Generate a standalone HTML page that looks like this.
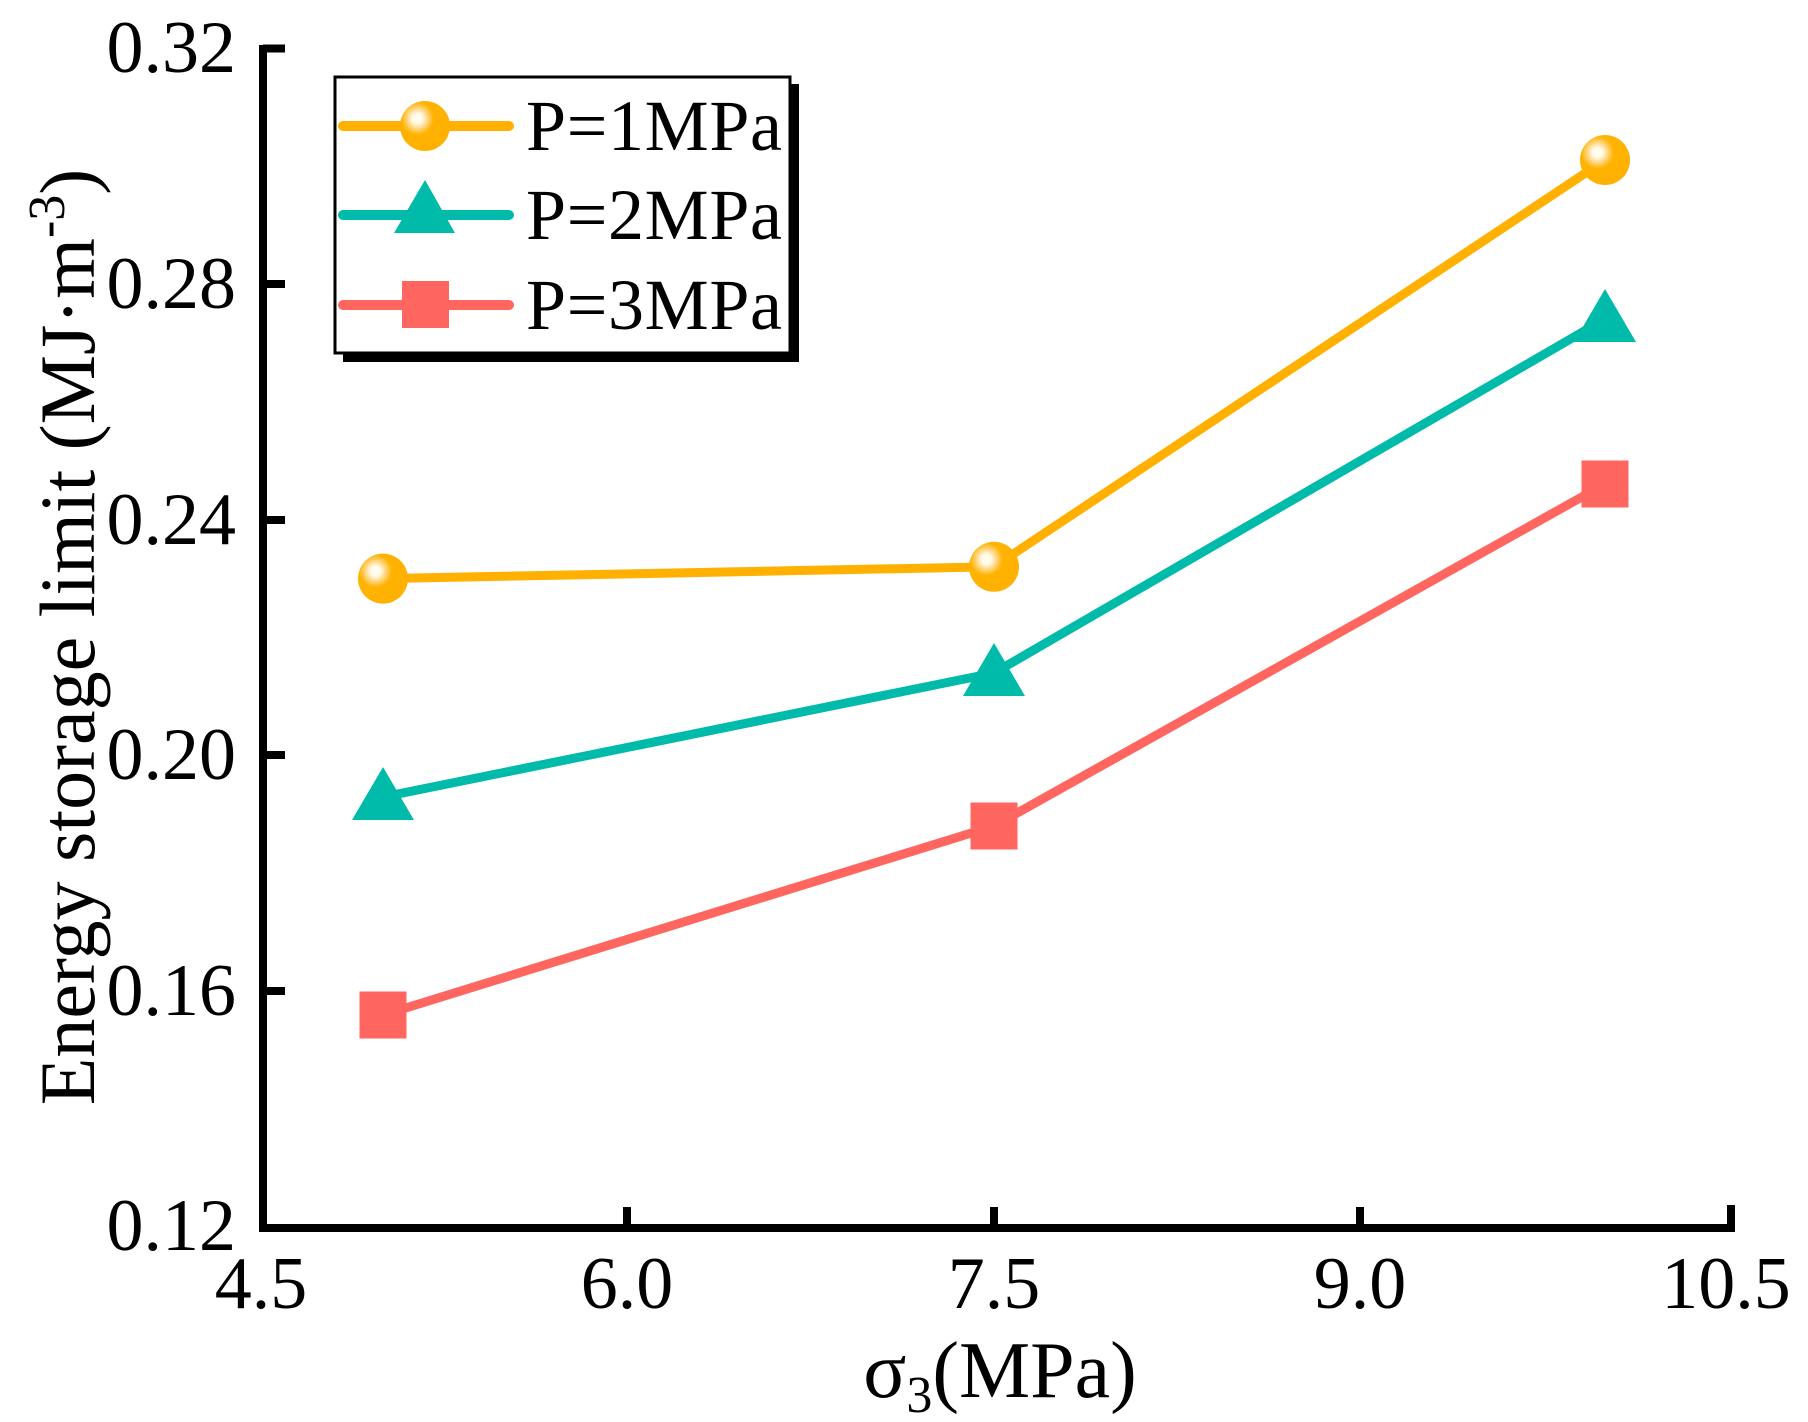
<!DOCTYPE html>
<html><head><meta charset="utf-8"><style>html,body{margin:0;padding:0;background:#fff}svg{display:block}</style></head>
<body>
<svg width="1808" height="1422" viewBox="0 0 1808 1422" xmlns="http://www.w3.org/2000/svg" font-family="'Liberation Serif', serif">
<defs>
<radialGradient id="g" cx="0.35" cy="0.35" r="0.65">
<stop offset="0" stop-color="#fffdf5"/><stop offset="0.15" stop-color="#fffbe8"/><stop offset="0.3" stop-color="#ffd88a"/><stop offset="0.5" stop-color="#ffb300"/><stop offset="1" stop-color="#ffb000"/>
</radialGradient>
</defs>
<g stroke="#000" stroke-width="8" fill="none">
<path d="M263 45 V1228 H1731 V1205"/>
<path d="M263 48.5 H285 M263 284 H285 M263 520 H285 M263 755 H285 M263 991 H285"/>
<path d="M627 1228 V1207 M994 1228 V1207 M1360 1228 V1207"/>
</g>
<g font-size="74" fill="#000" text-anchor="end">
<text x="236" y="72">0.32</text>
<text x="236" y="308">0.28</text>
<text x="236" y="544">0.24</text>
<text x="236" y="779">0.20</text>
<text x="236" y="1015">0.16</text>
<text x="236" y="1250">0.12</text>
</g>
<g font-size="74" fill="#000" text-anchor="middle">
<text x="261" y="1308">4.5</text>
<text x="627" y="1308">6.0</text>
<text x="994" y="1308">7.5</text>
<text x="1360" y="1308">9.0</text>
<text x="1726" y="1308">10.5</text>
<text x="1000" y="1397" font-size="80">σ<tspan font-size="52" dy="15">3</tspan><tspan dy="-15">(MPa)</tspan></text>
</g>
<text transform="translate(94,637) rotate(-90)" font-size="78" text-anchor="middle">Energy storage limit (MJ·m<tspan font-size="52" dy="-30">-3</tspan><tspan dy="30">)</tspan></text>
<g fill="none" stroke-width="9" stroke-linejoin="round">
<polyline stroke="#ffb000" points="383,578.6 994,566.8 1605,160"/>
<polyline stroke="#00bbaa" points="383,797 994,673 1605,319"/>
<polyline stroke="#ff6660" points="383,1015 994,826 1605,484"/>
</g>
<g fill="url(#g)">
<circle cx="383" cy="578.6" r="25"/><circle cx="994" cy="566.8" r="25"/><circle cx="1605" cy="160" r="25"/>
</g>
<g fill="#00bbaa">
<polygon points="383,767 414,820 352,820"/><polygon points="994,643 1025,696 963,696"/><polygon points="1605,289 1636,342 1574,342"/>
</g>
<g fill="#ff6660">
<rect x="359.5" y="991.5" width="47" height="47"/><rect x="970.5" y="802.5" width="47" height="47"/><rect x="1581.5" y="460.5" width="47" height="47"/>
</g>
<rect x="343" y="84" width="456" height="278" fill="#000"/>
<rect x="335" y="77" width="455" height="276" fill="#fff" stroke="#000" stroke-width="3"/>
<g stroke-width="10" stroke-linecap="round">
<line x1="343" y1="126" x2="509" y2="126" stroke="#ffb000"/>
<line x1="343" y1="215" x2="509" y2="215" stroke="#00bbaa"/>
<line x1="343" y1="305" x2="509" y2="305" stroke="#ff6660"/>
</g>
<circle cx="425" cy="126" r="25" fill="url(#g)"/>
<polygon points="425,180 455,233 394,233" fill="#00bbaa"/>
<rect x="402" y="281" width="47" height="47" fill="#ff6660"/>
<g font-size="72" fill="#000">
<text x="526" y="150" textLength="256">P=1MPa</text>
<text x="526" y="239" textLength="256">P=2MPa</text>
<text x="526" y="329" textLength="256">P=3MPa</text>
</g>
</svg>
</body></html>
